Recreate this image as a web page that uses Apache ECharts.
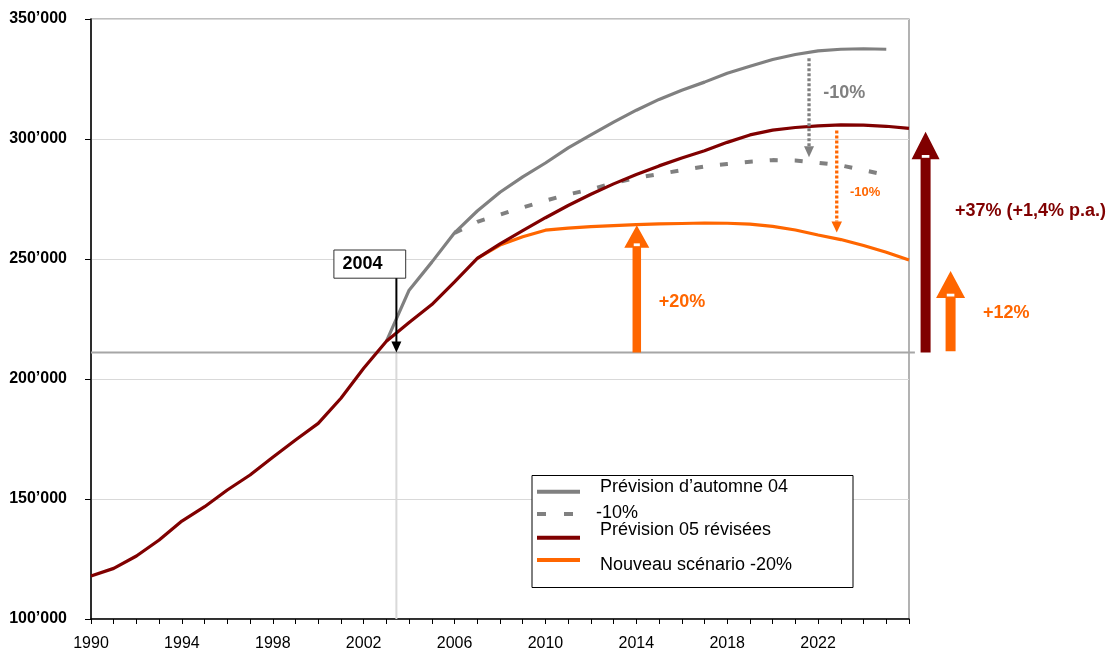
<!DOCTYPE html>
<html><head><meta charset="utf-8">
<script src="https://cdn.jsdelivr.net/npm/echarts@6/dist/echarts.min.js"></script>
<style>html,body{margin:0;padding:0;background:#fff}#c{width:1114px;height:652px}</style>
</head><body><div id="c"></div>
<script>
// ---------- data ----------
const yearsRevised = [1990,1991,1992,1993,1994,1995,1996,1997,1998,1999,2000,2001,2002,2003,2004,2005,2006,2007,2008,2009,2010,2011,2012,2013,2014,2015,2016,2017,2018,2019,2020,2021,2022,2023,2024,2025,2026];
const prevision05 = [117900,121100,126250,132900,140800,146800,153750,160000,167400,174600,181500,192000,204450,215700,223500,231000,240500,250300,256300,261800,267200,272300,277000,281300,285200,288800,292100,295100,298600,301700,303700,304800,305500,305900,305800,305300,304400];

const yearsAutumn = [2003,2004,2005,2006,2007,2008,2009,2010,2011,2012,2013,2014,2015,2016,2017,2018,2019,2020,2021,2022,2023,2024,2025];
const automne04 = [215700,237000,248700,260900,270000,277800,284200,290000,296300,301700,307000,312000,316500,320300,323700,327400,330300,333100,335200,336700,337400,337600,337400];

const yearsMinus10 = [2006,2007,2008,2009,2010,2011,2012,2013,2014,2015,2016,2017,2018,2019,2020,2021,2022,2023,2024,2025];
const minus10 = [260900,265500,268500,271500,274300,276900,279000,281700,283800,285400,287000,288500,289600,290500,291200,291000,290100,289000,287000,285000];

const yearsScenario = [2007,2008,2009,2010,2011,2012,2013,2014,2015,2016,2017,2018,2019,2020,2021,2022,2023,2024,2025,2026];
const scenario20 = [250300,255800,259300,262000,262900,263500,263900,264300,264600,264800,265000,264900,264500,263600,262100,260000,258100,255600,252800,249600];

const seriesNames = ['Prévision d’automne 04','-10%','Prévision 05 révisées','Nouveau scénario -20%'];
const xLabelYears = [1990,1994,1998,2002,2006,2010,2014,2018,2022];

// annotation anchors (data units)
const level2004 = 211000;
const refLineYears = [1990, 2026.26];
const marker2004 = {text:'2004', x:2003.44, box:[2000.69, 2003.85, 253750, 242000], textAt:[2001.07, 247900]};
const arrows = [
  {id:'a20', x:2014.02, from:211000, to:264100},
  {id:'a37', x:2026.73, from:211000, to:303000},
  {id:'a12', x:2027.83, from:211600, to:245000},
  {id:'d10g', x:2021.6, from:333600, to:292400},
  {id:'d10o', x:2022.82, from:303500, to:261000}
];
const labels = [
  {id:'l20', text:'+20%', x:2014.99, y:232100},
  {id:'l37', text:'+37% (+1,4% p.a.)', x:2028.02, y:270100},
  {id:'l12', text:'+12%', x:2029.26, y:227400},
  {id:'l10g', text:'-10%', x:2022.23, y:319300},
  {id:'l10o', text:'-10%', x:2023.4, y:277600}
];

// ---------- styles ----------
const FONT = 'Arial, "Liberation Sans", sans-serif';
const GRAY = '#808080', RED = '#800000', ORANGE = '#ff6600';
const arrowStyle = {
  a20:{kind:'solid', color:ORANGE, shaft:8.5, headW:25, headL:22.5},
  a37:{kind:'solid', color:RED, shaft:10, headW:28, headL:27.5},
  a12:{kind:'solid', color:ORANGE, shaft:10, headW:29, headL:27},
  d10g:{kind:'dotted', color:GRAY, shaft:3.3, headW:10, headL:11},
  d10o:{kind:'dotted', color:ORANGE, shaft:3.3, headW:10.5, headL:11}
};
const labelStyle = {
  l20:{color:ORANGE, size:18}, l37:{color:RED, size:18}, l12:{color:ORANGE, size:18},
  l10g:{color:GRAY, size:18}, l10o:{color:ORANGE, size:13}
};

const zip = (xs, ys) => xs.map((x, i) => [x, ys[i]]);

function arrowShapes(api, a) {
  const st = arrowStyle[a.id];
  const b = api.coord([a.x, a.from]), t = api.coord([a.x, a.to]);
  const x = b[0], yb = b[1], yt = t[1];
  const dir = yt < yb ? 1 : -1;
  const hb = yt + dir * st.headL;
  const hw = st.headW / 2, sw = st.shaft / 2;
  const out = [];
  if (st.kind === 'solid') {
    out.push({type:'polygon', shape:{points:[[x-sw,yb],[x-sw,hb],[x-hw,hb],[x,yt],[x+hw,hb],[x+sw,hb],[x+sw,yb]]}, style:{fill:st.color}});
    out.push({type:'rect', shape:{x:x-sw+1.2, y:hb-4.3, width:st.shaft-2.4, height:2.8}, style:{fill:'#fff'}});
  } else {
    out.push({type:'line', shape:{x1:x, y1:yb, x2:x, y2:hb}, style:{stroke:st.color, lineWidth:st.shaft, lineDash:[3,2]}});
    out.push({type:'polygon', shape:{points:[[x-hw,hb],[x+hw,hb],[x,yt]]}, style:{fill:st.color}});
  }
  return out;
}

const chart = echarts.init(document.getElementById('c'), null, {renderer:'canvas'});
chart.setOption({
  animation:false,
  backgroundColor:'#fff',
  grid:{left:91, right:205, top:19, bottom:33, show:true, borderColor:GRAY, borderWidth:1.2, backgroundColor:'transparent', containLabel:false, outerBoundsMode:'none'},
  xAxis:{
    type:'value', min:1990, max:2026, interval:1,
    axisLine:{show:true, onZero:false, lineStyle:{color:'#000', width:1.5}},
    axisTick:{show:true, inside:false, length:5, lineStyle:{color:'#000', width:1}},
    axisLabel:{show:true, margin:17, color:'#000', fontFamily:FONT, fontSize:16,
      formatter:v => xLabelYears.indexOf(Math.round(v)) >= 0 ? String(Math.round(v)) : ''},
    splitLine:{show:false}, minorTick:{show:false}
  },
  yAxis:{
    type:'value', min:100000, max:350000, interval:50000,
    axisLine:{show:true, onZero:false, lineStyle:{color:'#000', width:1.5}},
    axisTick:{show:true, inside:false, length:6, lineStyle:{color:'#000', width:1}},
    axisLabel:{margin:24, color:'#000', fontFamily:FONT, fontSize:16, fontWeight:'bold',
      formatter:v => (v/1000) + '’000'},
    splitLine:{show:true, lineStyle:{color:'#d9d9d9', width:1.2}}
  },
  series:[
    {type:'custom', name:'refs', z:1, silent:true, clip:false, data:[[2010,200000]],
      renderItem:(params, api) => {
        const p0 = api.coord([refLineYears[0], level2004]), p1 = api.coord([refLineYears[1], level2004]);
        const v0 = api.coord([marker2004.x, level2004]), v1 = api.coord([marker2004.x, 100000]);
        return {type:'group', children:[
          {type:'line', shape:{x1:v0[0], y1:v0[1], x2:v1[0], y2:v1[1]}, style:{stroke:'#d9d9d9', lineWidth:2}},
          {type:'line', shape:{x1:p0[0], y1:p0[1], x2:p1[0], y2:p1[1]}, style:{stroke:'#a6a6a6', lineWidth:2}}
        ]};
      }},
    {type:'line', name:seriesNames[0], data:zip(yearsAutumn, automne04), symbol:'none', z:2,
      lineStyle:{color:GRAY, width:3.2}, itemStyle:{color:GRAY}},
    {type:'line', name:seriesNames[1], data:zip(yearsMinus10, minus10), symbol:'none', z:2,
      lineStyle:{color:GRAY, width:4, type:[8,17]}, itemStyle:{color:GRAY}},
    {type:'line', name:seriesNames[3], data:zip(yearsScenario, scenario20), symbol:'none', z:2,
      lineStyle:{color:ORANGE, width:3.2}, itemStyle:{color:ORANGE}},
    {type:'line', name:seriesNames[2], data:zip(yearsRevised, prevision05), symbol:'none', z:2,
      lineStyle:{color:RED, width:3.2}, itemStyle:{color:RED}},
    {type:'custom', name:'annotations', z:5, silent:true, clip:false, data:[[2010,200000]],
      renderItem:(params, api) => {
        const kids = [];
        const bl = api.coord([marker2004.box[0], marker2004.box[2]]);
        const br = api.coord([marker2004.box[1], marker2004.box[3]]);
        kids.push({type:'rect', shape:{x:bl[0], y:bl[1], width:br[0]-bl[0], height:br[1]-bl[1]}, style:{fill:'#fff', stroke:'#333', lineWidth:1}});
        const tp = api.coord(marker2004.textAt);
        kids.push({type:'text', style:{text:marker2004.text, x:tp[0], y:tp[1], fill:'#000', font:'bold 18px ' + FONT, textAlign:'left', textVerticalAlign:'middle'}});
        const a0 = api.coord([marker2004.x, marker2004.box[3]]), a1 = api.coord([marker2004.x, level2004]);
        kids.push({type:'line', shape:{x1:a0[0], y1:a0[1], x2:a1[0], y2:a1[1]-10}, style:{stroke:'#000', lineWidth:2}});
        kids.push({type:'polygon', shape:{points:[[a1[0]-5, a1[1]-11],[a1[0]+5, a1[1]-11],[a1[0], a1[1]]]}, style:{fill:'#000'}});
        arrows.forEach(a => arrowShapes(api, a).forEach(s => kids.push(s)));
        labels.forEach(l => {
          const st = labelStyle[l.id];
          const p = api.coord([l.x, l.y]);
          kids.push({type:'text', style:{text:l.text, x:p[0], y:p[1], fill:st.color, font:'bold ' + st.size + 'px ' + FONT, textAlign:'left', textVerticalAlign:'middle'}});
        });
        return {type:'group', children:kids};
      }}
  ],
  graphic:[
    {type:'rect', silent:true, z:10, shape:{x:532, y:475.5, width:321, height:112}, style:{fill:'#fff', stroke:'#000', lineWidth:1}},
    {type:'line', silent:true, z:11, shape:{x1:537, y1:491.7, x2:580, y2:491.7}, style:{stroke:GRAY, lineWidth:4}},
    {type:'rect', silent:true, z:11, shape:{x:537, y:512, width:9, height:4}, style:{fill:GRAY}},
    {type:'rect', silent:true, z:11, shape:{x:564, y:512, width:9, height:4}, style:{fill:GRAY}},
    {type:'line', silent:true, z:11, shape:{x1:537, y1:537.7, x2:580, y2:537.7}, style:{stroke:RED, lineWidth:4}},
    {type:'line', silent:true, z:11, shape:{x1:537, y1:560, x2:580, y2:560}, style:{stroke:ORANGE, lineWidth:4}},
    {type:'text', silent:true, z:11, style:{text:seriesNames[0], x:600, y:486.7, fill:'#000', font:'18px ' + FONT, textAlign:'left', textVerticalAlign:'middle'}},
    {type:'text', silent:true, z:11, style:{text:seriesNames[1], x:596, y:513.3, fill:'#000', font:'18px ' + FONT, textAlign:'left', textVerticalAlign:'middle'}},
    {type:'text', silent:true, z:11, style:{text:seriesNames[2], x:600, y:530, fill:'#000', font:'18px ' + FONT, textAlign:'left', textVerticalAlign:'middle'}},
    {type:'text', silent:true, z:11, style:{text:seriesNames[3], x:600, y:565, fill:'#000', font:'18px ' + FONT, textAlign:'left', textVerticalAlign:'middle'}}
  ]
});
</script></body></html>
